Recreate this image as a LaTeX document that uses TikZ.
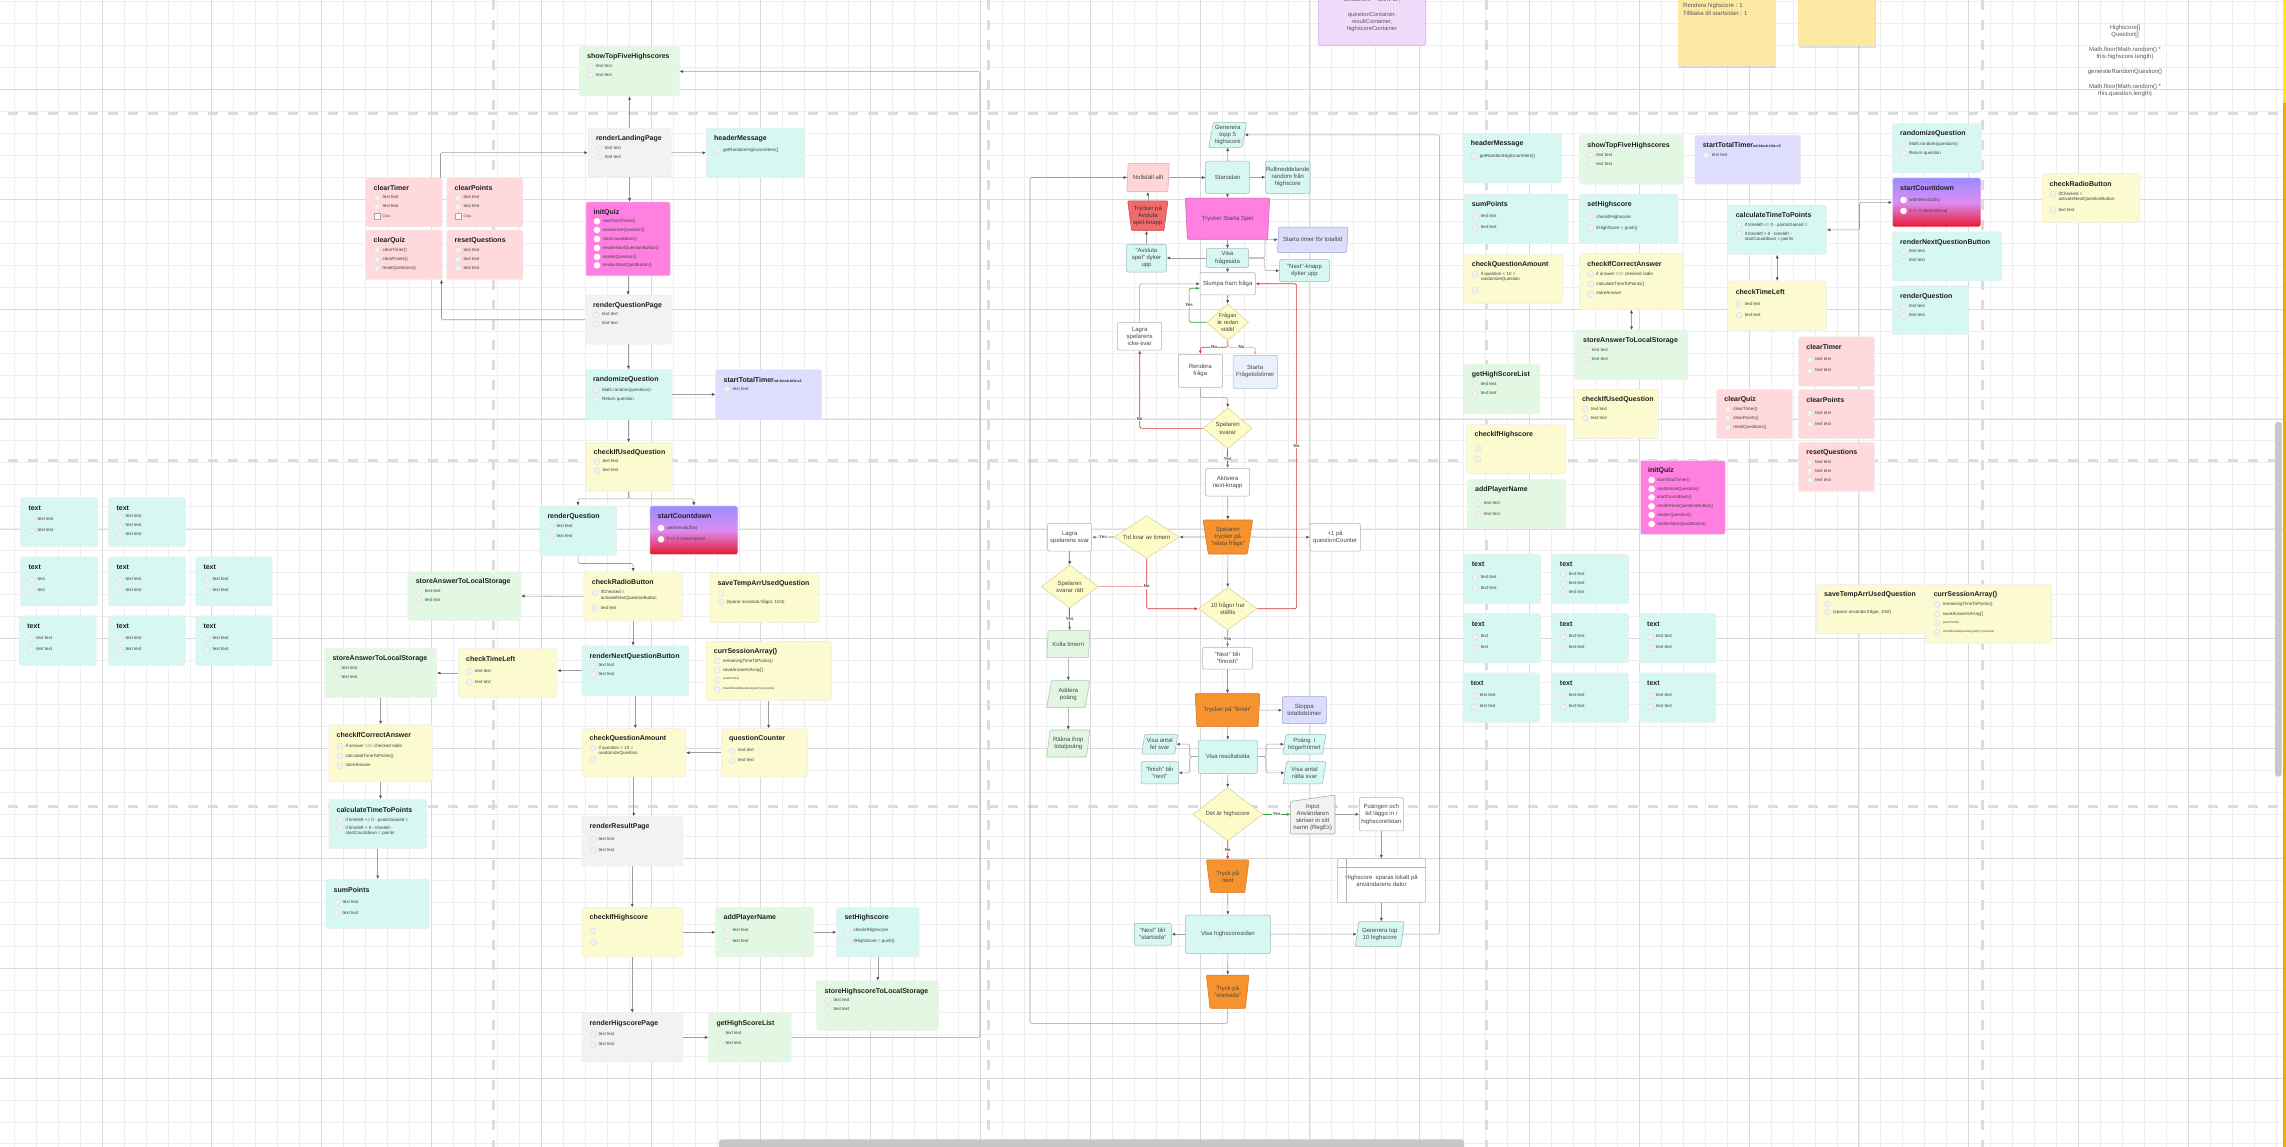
\documentclass[tikz,border=0pt]{standalone}
\usepackage{fontspec}
\setmainfont{Liberation Sans}
\usetikzlibrary{arrows.meta,shapes.geometric,shadows}

\definecolor{cmint}{HTML}{D7F7F2}
\definecolor{cgreen}{HTML}{E3F8E2}
\definecolor{cyellow}{HTML}{FCFACF}
\definecolor{cgray}{HTML}{F1F2F4}
\definecolor{cpink}{HTML}{FFD9DC}
\definecolor{clav}{HTML}{DFDDFD}
\definecolor{cmag}{HTML}{FF80E0}
\definecolor{cdtop}{HTML}{9A8CFF}
\definecolor{cdmid}{HTML}{DC8CF2}
\definecolor{cdbot}{HTML}{E8162E}
\definecolor{fmintd}{HTML}{9DBDB8}
\definecolor{fyellow}{HTML}{FDFBC8}
\definecolor{fyellowd}{HTML}{D6D39C}
\definecolor{fpink}{HTML}{FFD6D6}
\definecolor{fpinkd}{HTML}{E0A6A6}
\definecolor{fred}{HTML}{F26B6B}
\definecolor{fredd}{HTML}{C94B4B}
\definecolor{forange}{HTML}{F7932F}
\definecolor{forangd}{HTML}{D27A22}
\definecolor{flav}{HTML}{DCDCFC}
\definecolor{flavd}{HTML}{A2A2D6}
\definecolor{fblue}{HTML}{EAF1FD}
\definecolor{fblued}{HTML}{A9BEE2}
\definecolor{fgreen}{HTML}{E2F6E2}
\definecolor{fgreend}{HTML}{A6C9A6}
\definecolor{yesgreen}{HTML}{2F9E44}
\definecolor{nored}{HTML}{E03131}
\definecolor{nopink}{HTML}{F4A3A3}
\definecolor{gridminor}{HTML}{EEEEEE}
\definecolor{gridmajor}{HTML}{DADADA}
\definecolor{guidec}{HTML}{DCDCDC}
\definecolor{sticky}{HTML}{FDE9A4}
\definecolor{lilac}{HTML}{F2DAFB}
\definecolor{lilacd}{HTML}{CDAEDD}
\definecolor{stripy}{HTML}{FFE81A}
\definecolor{stripo}{HTML}{F5A700}

% name, x, y, width, height, fill keys, title, offset/item list
\newcommand{\fncard}[8]{%
  \node[card,#6,minimum width=#4,minimum height=#5,anchor=north west] (#1) at (#2,#3) {};
  \node[cardtitle,anchor=west] (#1-t) at ([xshift=8pt,yshift=-10.5pt]#1.north west) {#7};
  \foreach \dy/\txt [count=\k] in {#8} {
    \node[dot] (#1-c\k) at ([xshift=11.5pt,yshift=-\dy pt]#1.north west) {};
    \node[cardtext,anchor=north west] (#1-i\k) at ([xshift=17pt,yshift=2.4pt-\dy pt]#1.north west) {\txt};
  }%
}

\begin{document}
\begin{tikzpicture}[x=1pt,y=-1pt,
  card/.style={rectangle, rounded corners=2pt, draw=black!7, line width=0.5pt, inner sep=0pt},
  cardtitle/.style={font=\fontsize{7}{8}\selectfont\bfseries, text=black!88, inner sep=0pt},
  cardtext/.style={font=\fontsize{4.5}{5.6}\selectfont, text=black!75, inner sep=0pt, align=left},
  dot/.style={circle, draw=black!14, fill=black!5, line width=0.4pt, inner sep=0pt, minimum size=6pt},
  chk/.style={rectangle, draw=black!35, fill=white, inner sep=0pt, minimum size=5.5pt},
  flow/.style={font=\fontsize{6}{7.2}\selectfont, text=black!72, align=center, inner sep=0.5pt, line width=0.55pt},
  fbox/.style={flow, rectangle, rounded corners=1.2pt, draw=black!30, fill=white},
  fmintbox/.style={fbox, fill=cmint, draw=fmintd},
  fpara/.style={flow, trapezium, trapezium left angle=78, trapezium right angle=102, trapezium stretches=true, rounded corners=1pt, fill=cmint, draw=fmintd},
  ftrap/.style={flow, trapezium, trapezium left angle=103, trapezium right angle=103, trapezium stretches=true, rounded corners=1pt, inner sep=0pt, fill=forange, draw=forangd},
  fdiam/.style={flow, diamond, inner sep=0pt, fill=fyellow, draw=fyellowd},
  conn/.style={-{Latex[length=3.5pt,width=3pt,color=black!68]}, draw=black!38, line width=0.55pt, rounded corners=1.5pt},
  dconn/.style={conn, {Latex[length=3.5pt,width=3pt,color=black!68]}-{Latex[length=3.5pt,width=3pt,color=black!68]}},
  yesc/.style={-{Latex[length=3.5pt,width=3pt]}, draw=yesgreen, line width=0.6pt, rounded corners=1.5pt},
  noc/.style={-{Latex[length=3.5pt,width=3pt]}, draw=nored, line width=0.6pt, rounded corners=1.5pt},
  nopc/.style={noc, draw=nopink},
  yn/.style={font=\fontsize{4.4}{5}\selectfont\bfseries, text=black!70, fill=white, inner sep=0.5pt},
  note/.style={font=\fontsize{5.8}{7.2}\selectfont, text=black!65, align=center, inner sep=0pt},
  guide/.style={draw=guidec, line width=3pt, dash pattern=on 10pt off 10pt}]

\clip (0,0) rectangle (2286,1147);
\fill[white] (0,0) rectangle (2286,1147);
\foreach \i in {0,...,104} \draw[gridminor, line width=0.7pt] ({14.2+21.96*\i},0) -- ++(0,1147);
\foreach \j in {0,...,52} \draw[gridminor, line width=0.7pt] (0,{1.4+21.97*\j}) -- ++(2286,0);
\foreach \i in {0,...,19} \draw[gridmajor, line width=0.8pt] ({102+109.8*\i},0) -- ++(0,1147);
\foreach \j in {0,...,9} \draw[gridmajor, line width=0.8pt] (0,{89.3+109.9*\j}) -- ++(2286,0);
\foreach \gx in {493,988.7,1486,1982} \draw[guide] (\gx,0) -- (\gx,1147);
\foreach \gy in {114,460.5,806} \draw[guide] (8,\gy) -- (2286,\gy);

\draw[fill=lilac, draw=lilacd, line width=0.6pt, rounded corners=1.5pt] (1318.3,-5) rectangle (1425.7,45.3);
\node[note, anchor=north] (contnote) at (1372,-2.6) {containers = 'Skriv ut';\\[7.2pt]questionContainer,\\resultContainer,\\highscoreContainer};
\fill[sticky, drop shadow={opacity=0.25,shadow xshift=0.5pt,shadow yshift=-2.5pt}] (1678,-5) rectangle (1775.5,66);
\fill[sticky, drop shadow={opacity=0.25,shadow xshift=0.5pt,shadow yshift=-2.5pt}] (1798,-5) rectangle (1875.4,46);
\node[note, align=left, anchor=north west, font=\fontsize{6}{7.7}\selectfont] (stickytxt) at (1683,3.4) {Rendera highscore : 1\\Tillbaka till startsidan : 1};
\node[note, anchor=north, font=\fontsize{6}{7}\selectfont] (codenote) at (2125,25.2) {Highscore[]\\Question[]\\[8pt]Math.floor(Math.random() *\\this.highscore.length)\\[8pt]generateRandomQuestion()\\[8pt]Math.floor(Math.random() *\\this.question.length)};

\fncard{clrTimerL}{365.5}{177.7}{76.5}{49}{fill=cpink}{clearTimer}{20.3/text text,29.3/text text}
\fncard{clrPointsL}{446.5}{177.7}{76.2}{49}{fill=cpink}{clearPoints}{20.3/text text,29.3/text text}
\node[chk] (clrTimerL-b) at ([xshift=11.5pt,yshift=-38.6pt]clrTimerL.north west) {};
\node[cardtext, font=\fontsize{3.5}{4}\selectfont, anchor=west] (clrTimerL-bt) at ([xshift=17pt,yshift=-38.6pt]clrTimerL.north west) {Click};
\node[chk] (clrPointsL-b) at ([xshift=11.5pt,yshift=-38.6pt]clrPointsL.north west) {};
\node[cardtext, font=\fontsize{3.5}{4}\selectfont, anchor=west] (clrPointsL-bt) at ([xshift=17pt,yshift=-38.6pt]clrPointsL.north west) {Click};
\fncard{clrQuizL}{365.5}{230}{76.5}{49.3}{fill=cpink}{clearQuiz}{20.3/clearTimer(),29.3/clearPoints(),38.3/resetQuestions()}
\fncard{resetL}{446.5}{230}{76.2}{49.3}{fill=cpink}{resetQuestions}{20.3/text text,29.3/text text,38.3/text text}

\fncard{showTopL}{579}{46.7}{100}{49}{fill=cgreen}{showTopFiveHighscores}{19.6/text text,28.6/text text}
\fncard{landing}{587.8}{128}{83}{48.7}{fill=cgray}{renderLandingPage}{20.3/text text,29.3/text text}
\fncard{headerL}{706}{128}{98.5}{49}{fill=cmint}{headerMessage}{22.3/getRandomHighscoreItem()}
\begin{scope}[dot/.append style={fill=white, draw=white}]
\fncard{initL}{585.5}{201.7}{84.7}{74}{fill=cmag}{initQuiz}{19.6/startTotalTimer(),28.3/randomizeQuestion(),37.3/startCountdown(),46.3/renderNextQuestionButton(),55.3/renderQuestion(),63.6/renderAbortQuizButton()}
\fncard{cdL}{649.5}{505.7}{88}{48.7}{top color=cdtop,bottom color=cdbot,middle color=cdmid}{startCountdown}{22.3/setInterval(30s),33.6/if <= 0 clearInterval}
\fncard{cdR}{1892}{177.7}{88.6}{49}{top color=cdtop,bottom color=cdbot,middle color=cdmid}{startCountdown}{22.3/setInterval(30s),33.3/if <= 0 clearInterval}
\fncard{initR}{1640}{460}{85}{74.3}{fill=cmag}{initQuiz}{20/startTotalTimer(),29/randomizeQuestion(),37.3/startCountdown(),46.3/renderNextQuestionButton(),55/renderQuestion(),64/renderAbortQuizButton()}
\end{scope}
\fncard{qpage}{585}{295}{86.4}{49}{fill=cgray}{renderQuestionPage}{20/text text,29/text text}
\fncard{randL}{585}{369.3}{86.7}{49.7}{fill=cmint}{randomizeQuestion}{20.7/Math.random(questions),29.7/Return question}
\fncard{totalL}{715.4}{369.3}{106}{49.7}{fill=clav}{startTotalTimer{\fontsize{3.6}{4}\selectfont nd-block-title-v3}}{20/text text}
\fncard{usedL}{585.5}{442.3}{86}{48.7}{fill=cyellow}{checkIfUsedQuestion}{19.7/text text,28.7/text text}
\fncard{rqL}{539.3}{505.7}{77}{49.3}{fill=cmint}{renderQuestion}{21.3/text text,30.6/text text}
\fncard{radioL}{583.7}{571.7}{98.3}{49}{fill=cyellow}{checkRadioButton}{21/{ifChecked =\\activateNextQuestionButton},36.6/text text}
\fncard{tempL}{709.5}{572.7}{109}{49.7}{fill=cyellow}{saveTempArrUsedQuestion}{20.3/\mbox{},29.3/{(sparar använda frågor, 10st)}}
\fncard{storeA1}{407.6}{571.7}{113}{48.3}{fill=cgreen}{storeAnswerToLocalStorage}{19.6/text text,28.6/text text}
\fncard{nextL}{581.5}{645.7}{107.2}{49.3}{fill=cmint}{renderNextQuestionButton}{20.3/text text,28.6/text text}
\fncard{sessL}{705.7}{641}{125.3}{59}{fill=cyellow}{currSessionArray()}{20/remainingTimeToPoints(),29.3/saveAnswersArray[],39/{\fontsize{3}{3.5}\selectfont (userPoints)},48.3/{\fontsize{3}{3.5}\selectfont checkIfUsedQuestion(quiNr) (userAns)}}
\fncard{timeleftL}{458}{648.3}{98.7}{49}{fill=cyellow}{checkTimeLeft}{23/text text,34/text text}
\fncard{storeA2}{324.4}{648.3}{112}{49}{fill=cgreen}{storeAnswerToLocalStorage}{20/text text,29/text text}
\fncard{correctL}{328.5}{724.3}{103.5}{56.7}{fill=cyellow}{checkIfCorrectAnswer}{21.7/if answer === checked radio,31.7/calculateTimeToPoints(),41.7/storeAnswer}
\fncard{amountL}{581.5}{728.3}{104}{48.4}{fill=cyellow}{checkQuestionAmount}{19.7/{if question < 10 =\\randomizeQuestion},31/\mbox{}}
\fncard{counterL}{721}{728.3}{86}{48.4}{fill=cyellow}{questionCounter}{22.7/text text,32.7/text text}
\fncard{calcL}{328.5}{799}{98}{49.3}{fill=cmint}{calculateTimeToPoints}{21/if timeleft <= 0 - pointsGained =,29/{if timeleft > 0 - timeleft -\\startCountdown = points}}
\fncard{sumL}{325.5}{879}{103.5}{49.3}{fill=cmint}{sumPoints}{23.3/text text,34.3/text text}
\fncard{resultL}{581.5}{816.3}{101}{49.4}{fill=cgray}{renderResultPage}{23/text text,34/text text}
\fncard{ifhsL}{581.5}{907.3}{101}{49.4}{fill=cyellow}{checkIfHighscore}{23.7/\mbox{},34.7/\mbox{}}
\fncard{nameL}{715.4}{907.3}{98}{49.4}{fill=cgreen}{addPlayerName}{23/text text,34/text text}
\fncard{sethsL}{836.3}{907.3}{82.5}{49.4}{fill=cmint}{setHighscore}{23/checkIfHighscore,34/ifHighScore = push()}
\fncard{storeHS}{816.4}{980.7}{122}{49.3}{fill=cgreen}{storeHighscoreToLocalStorage}{20.3/text text,28.6/text text}
\fncard{hsPageL}{581.5}{1012.7}{101}{49}{fill=cgray}{renderHigscorePage}{21.6/text text,32.3/text text}
\fncard{listL}{708.3}{1012.7}{82.5}{49}{fill=cgreen}{getHighScoreList}{20.6/text text,30.6/text text}

\fncard{txtA}{20.3}{497.3}{77}{49}{fill=cmint}{text}{22.7/text text,33.7/text text}
\fncard{txtB}{108.4}{497.3}{76.6}{49}{fill=cmint}{text}{19.7/text text,28.7/text text,37.7/text text}
\fncard{txtC}{20.3}{556.7}{77}{49}{fill=cmint}{text}{23.3/text,34.3/text}
\fncard{txtD}{108.4}{556.7}{76.6}{49}{fill=cmint}{text}{23.3/text text,34.3/text text}
\fncard{txtE}{195.3}{556.7}{76.6}{49}{fill=cmint}{text}{23.3/text text,34.3/text text}
\fncard{txtF}{19.2}{615.7}{77}{49.3}{fill=cmint}{text}{23.3/text text,34.3/text text}
\fncard{txtG}{108.4}{615.7}{76.6}{49.3}{fill=cmint}{text}{23.3/text text,34.3/text text}
\fncard{txtH}{195.3}{615.7}{76.6}{49.3}{fill=cmint}{text}{23.3/text text,34.3/text text}

\fncard{headerR}{1462.7}{133.3}{98.7}{49.4}{fill=cmint}{headerMessage}{22.7/getRandomHighscoreItem()}
\fncard{showTopR}{1579.2}{135}{104}{49}{fill=cgreen}{showTopFiveHighscores}{20.3/text text,29.3/text text}
\fncard{totalR}{1694.6}{135}{105.8}{49}{fill=clav}{startTotalTimer{\fontsize{3.6}{4}\selectfont nd-block-title-v3}}{20.3/text text}
\fncard{randR}{1892}{123.3}{89}{49.4}{fill=cmint}{randomizeQuestion}{20.7/Math.random(questions),30/Return question}
\fncard{sumR}{1463.7}{194}{104.2}{49.3}{fill=cmint}{sumPoints}{23/text text,34/text text}
\fncard{setR}{1579.2}{194}{98.7}{49.3}{fill=cmint}{setHighscore}{23/checkIfHighscore,34/ifHighScore = push()}
\fncard{calcR}{1727.6}{205}{98.7}{49.3}{fill=cmint}{calculateTimeToPoints}{20/if timeleft <= 0 - pointsGained =,29/{if timeleft > 0 - timeleft -\\startCountdown = points}}
\fncard{nextR}{1892}{231.7}{109.6}{49}{fill=cmint}{renderNextQuestionButton}{20.3/text text,29.3/text text}
\fncard{rqR}{1892}{285.7}{76.7}{48.6}{fill=cmint}{renderQuestion}{21.3/text text,30.3/text text}
\fncard{radioR}{2041.5}{173.3}{98.2}{49}{fill=cyellow}{checkRadioButton}{20.7/{ifChecked =\\activateNextQuestionButton},37/text text}
\fncard{amountR}{1463.7}{254.3}{98.8}{49}{fill=cyellow}{checkQuestionAmount}{19.7/{if question < 10 =\\randomizeQuestion},35.7/\mbox{}}
\fncard{correctR}{1579.2}{253.3}{104}{56}{fill=cyellow}{checkIfCorrectAnswer}{20.7/if answer === checked radio,30.7/calculateTimeToPoints(),40.7/storeAnswer}
\fncard{timeleftR}{1727.6}{281}{98.7}{49}{fill=cyellow}{checkTimeLeft}{23.3/text text,34.3/text text}
\fncard{storeAR}{1574.9}{330}{112.7}{49.3}{fill=cgreen}{storeAnswerToLocalStorage}{20.3/text text,29.3/text text}
\fncard{clrTimerR}{1798.2}{336.7}{76}{49.3}{fill=cpink}{clearTimer}{23.3/text text,34.3/text text}
\fncard{listR}{1463.7}{364}{75.6}{49.3}{fill=cgreen}{getHighScoreList}{20.3/text text,29.3/text text}
\fncard{usedR}{1573.8}{389.3}{84.2}{49}{fill=cyellow}{checkIfUsedQuestion}{20/text text,29/text text}
\fncard{clrQuizR}{1716.2}{389.3}{75.6}{49}{fill=cpink}{clearQuiz}{20/clearTimer(),29/clearPoints(),38/resetQuestions()}
\fncard{clrPointsR}{1798.2}{389.3}{76}{49}{fill=cpink}{clearPoints}{24/text text,35/text text}
\fncard{ifhsR}{1466.4}{424.3}{99.3}{49}{fill=cyellow}{checkIfHighscore}{24/\mbox{},35/\mbox{}}
\fncard{resetR}{1798.2}{442}{76}{49.3}{fill=cpink}{resetQuestions}{20.3/text text,29.3/text text,38.3/text text}
\fncard{nameR}{1467}{479.3}{98.7}{49.4}{fill=cgreen}{addPlayerName}{24/text text,35/text text}
\fncard{tempR}{1816}{584}{108.5}{49.3}{fill=cyellow}{saveTempArrUsedQuestion}{20/\mbox{},28.3/{(sparar använda frågor, 10st)}}
\fncard{sessR}{1925.6}{584}{125.7}{59.3}{fill=cyellow}{currSessionArray()}{20.3/remainingTimeToPoints(),30/saveAnswersArray[],39.3/{\fontsize{3}{3.5}\selectfont (userPoints)},48.3/{\fontsize{3}{3.5}\selectfont checkIfUsedQuestion(quiNr) (userAns)}}
\fncard{txtRA}{1463.7}{554}{76.6}{49.3}{fill=cmint}{text}{23.3/text text,34.3/text text}
\fncard{txtRB}{1551.7}{554}{76.6}{49.3}{fill=cmint}{text}{20.3/text text,29.3/text text,38.3/text text}
\fncard{txtRC}{1463.7}{613.3}{76.6}{49.4}{fill=cmint}{text}{23.7/text,34.7/text}
\fncard{txtRD}{1551.7}{613.3}{76.6}{49.4}{fill=cmint}{text}{23.7/text text,34.7/text text}
\fncard{txtRE}{1639}{613.3}{76.7}{49.4}{fill=cmint}{text}{23.7/text text,34.7/text text}
\fncard{txtRF}{1462.7}{672.7}{76.6}{49.3}{fill=cmint}{text}{23.3/text text,34.3/text text}
\fncard{txtRG}{1551.7}{672.7}{76.6}{49.3}{fill=cmint}{text}{23.3/text text,34.3/text text}
\fncard{txtRH}{1639}{672.7}{76.7}{49.3}{fill=cmint}{text}{23.3/text text,34.3/text text}

\draw[conn] (landing.north) -- (landing.north |- showTopL.south);
\draw[conn] (landing.east) -- (headerL.west);
\draw[conn] (landing.south) -- (landing.south |- initL.north);
\draw[conn] (initL.south) -- (initL.south |- qpage.north);
\draw[conn] (qpage.south) -- (qpage.south |- randL.north);
\draw[conn] (randL.east) -- (totalL.west);
\draw[conn] (randL.south) -- (randL.south |- usedL.north);
\draw[conn] (usedL.south) -- ++(0,7.3) -| (rqL.north);
\draw[conn] (usedL.south) -- ++(0,7.3) -| (cdL.north);
\draw[conn] (rqL.south) -- ++(0,8) -| (radioL.north);
\draw[conn] (radioL.west) -- (storeA1.east);
\draw[conn] (radioL.south) -- (radioL.south |- nextL.north);
\draw[conn] (nextL.west) -- (nextL.west -| timeleftL.east);
\draw[conn] (timeleftL.west) -- (storeA2.east);
\draw[conn] (storeA2.south) -- (storeA2.south |- correctL.north);
\draw[conn] (correctL.south) -- (correctL.south |- calcL.north);
\draw[conn] (calcL.south) -- (calcL.south |- sumL.north);
\draw[conn] (nextL.south) -- (nextL.south |- amountL.north);
\draw[conn] (sessL.south) -- (sessL.south |- counterL.north);
\draw[conn] (counterL.west) -- (amountL.east);
\draw[conn] (amountL.south) -- (amountL.south |- resultL.north);
\draw[conn] (resultL.south) -- (resultL.south |- ifhsL.north);
\draw[conn] (ifhsL.east) -- (nameL.west);
\draw[conn] (nameL.east) -- (sethsL.west);
\draw[conn] (sethsL.south) -- (sethsL.south |- storeHS.north);
\draw[conn] (ifhsL.south) -- (ifhsL.south |- hsPageL.north);
\draw[conn] (hsPageL.east) -- (listL.west);
\coordinate (loopA) at (980,1036.7);
\draw[conn] (listL.east) -- (listL.east -| loopA) |- (showTopL.east);
\draw[conn] (qpage.west) -| ([xshift=-1pt]clrQuizL.south east);
\draw[conn] ([xshift=-2pt]clrTimerL.north east) |- (landing.west);

\draw[dconn] (calcR.east) -- ++(32.7,0) |- (cdR.west);
\draw[dconn] (calcR.south) -- (timeleftR.north);
\draw[dconn] (correctR.south) -- (storeAR.north);

\node[fpara, minimum width=38, minimum height=25] (gen5) at (1227.7,134.8) {Generera\\topp 5\\highscore};
\node[fmintbox, minimum width=43.6, minimum height=32.3] (startpage) at (1227.5,177.2) {Starsidan};
\node[fmintbox, minimum width=44.3, minimum height=32.3] (rull) at (1287.8,177.2) {Rullmeddelande\\random från\\highscore};
\node[fpara, fill=fpink, draw=fpinkd, minimum width=42.6, minimum height=28.4] (resetall) at (1148,177.5) {Nollställ allt};
\node[ftrap, trapezium left angle=100, trapezium right angle=100, fill=fred, draw=fredd, text=black!80, minimum width=40.3, minimum height=29.7] (abort) at (1147.8,215.8) {Trycker på\\Avsluta\\spel-knapp};
\node[ftrap, fill=cmag, draw=cmag!80!black, minimum width=84.4, minimum height=41.3] (play) at (1227.5,218.7) {Trycker Starta Spel};
\node[fmintbox, minimum width=42.4, minimum height=18.6] (visaq) at (1227.5,258) {Visa\\frågesida};
\node[fmintbox, minimum width=39.6, minimum height=27.7] (abortup) at (1146.5,258.2) {"Avsluta\\spel" dyker\\upp};
\node[fpara, fill=flav, draw=flavd, minimum width=70.7, minimum height=25.3] (totaltimer) at (1312.7,239.7) {Starta timer för totaltid};
\node[fmintbox, minimum width=49.6, minimum height=22] (nextup) at (1304.5,270.7) {"Next"-knapp\\dyker upp};
\node[fbox, minimum width=55.3, minimum height=22.3] (slumpa) at (1227.7,283.8) {Slumpa fram fråga};
\node[fdiam, aspect=1.15, minimum width=42, minimum height=36.7, font=\fontsize{5.6}{6.8}\selectfont] (asked) at (1227.7,322.3) {Frågan\\är redan\\ställd};
\node[fbox, minimum width=44, minimum height=27.7] (nosvar) at (1139.7,336.2) {Lagra\\spelarens\\icke-svar};
\node[fbox, minimum width=44, minimum height=33] (renderq) at (1200.3,370.8) {Rendera\\fråga};
\node[fbox, fill=fblue, draw=fblued, minimum width=44.3, minimum height=33] (qtimer) at (1255.2,371.8) {Starta\\Frågetidstimer};
\node[fdiam, aspect=1.19, minimum width=49, minimum height=41.3] (answers) at (1227.7,428.3) {Spelaren\\svarar};
\node[fbox, minimum width=44, minimum height=27.7] (activate) at (1227.7,482.2) {Aktivera\\next-knapp};
\node[ftrap, minimum width=49.7, minimum height=34] (pressnext) at (1227.8,537) {Spelaren\\trycker på\\"nästa fråga"};
\node[fbox, minimum width=50.3, minimum height=27.7] (plus1) at (1335.2,537.2) {+1 på\\questionCounter};
\node[fdiam, aspect=1.52, minimum width=65, minimum height=42.7] (timeleft) at (1146.7,537) {Tid kvar av timern};
\node[fbox, minimum width=44, minimum height=27.7] (storeans) at (1069.7,537.2) {Lagra\\spelarens svar};
\node[fdiam, aspect=1.33, minimum width=57, minimum height=43] (iscorrect) at (1069.7,586.5) {Spelaren\\svarar rätt};
\node[fpara, fill=fgreen, draw=fgreend, minimum width=43.3, minimum height=27] (checktime) at (1068.3,644.2) {Kolla timern};
\node[fpara, fill=fgreen, draw=fgreend, minimum width=43.3, minimum height=27] (addpts) at (1068.3,694.2) {Addera\\poäng};
\node[fpara, fill=fgreen, draw=fgreend, minimum width=43.3, minimum height=27] (sumup) at (1068.3,743.5) {Räkna ihop\\totalpoäng};
\node[fdiam, aspect=1.37, minimum width=58.7, minimum height=42.7] (tenq) at (1227.7,608.7) {10 frågor har\\ställts};
\node[fbox, minimum width=49.6, minimum height=21.7] (finnish) at (1227.5,658.2) {"Next" blir\\"finnish"};
\node[ftrap, minimum width=65, minimum height=33] (pressfin) at (1227.5,710.2) {Trycker på "finish"};
\node[fbox, fill=flav, draw=flavd, minimum width=44, minimum height=27] (stoptimer) at (1304.3,710.2) {Stoppa\\totaltidstimer};
\node[fmintbox, minimum width=59, minimum height=33.3] (resultpage) at (1227.8,756.7) {Visa resultatsida};
\node[fpara, minimum width=36, minimum height=19.7] (wrong) at (1159.7,744.2) {Visa antal\\fel svar};
\node[fmintbox, minimum width=37.3, minimum height=22.3] (fin2next) at (1159.7,772.8) {"finish" blir\\"next"};
\node[fpara, minimum width=43.3, minimum height=19.7] (corner) at (1304.3,744.2) {Poäng\ \ i\\högerhörnet};
\node[fpara, minimum width=43, minimum height=22.3] (rightans) at (1304.5,772.8) {Visa antal\\rätta svar};
\node[fdiam, aspect=1.31, minimum width=70, minimum height=53.3] (ishs) at (1227.7,814.3) {Det är highscore};
\node[flow, rectangle, minimum width=44, minimum height=32] (inputname) at (1312.7,817.7) {};
\draw[fill=cgray, draw=black!35, line width=0.55pt, rounded corners=1pt] (inputname.south west) -- (inputname.north west) -- ([yshift=6.4pt]inputname.north east) -- (inputname.south east) -- cycle;
\node[flow] (inputname-t) at (inputname) {Input\\Användaren\\skriver in sitt\\namn (RegEx)};
\node[fbox, minimum width=44, minimum height=33.3] (addlist) at (1381.3,814.3) {Poängen och\\tid läggs in i\\highscorelistan};
\node[fbox, minimum width=87.6, minimum height=43.6] (saved) at (1381.5,880.5) {Highscore\ \ sparas lokalt på\\användarens dator};
\draw[black!30, line width=0.55pt] ([yshift=-8.6pt]saved.north west) -- ([yshift=-8.6pt]saved.north east);
\draw[black!30, line width=0.55pt] ([xshift=9pt]saved.north west) -- ([xshift=9pt]saved.south west);
\node[fpara, minimum width=49, minimum height=25] (gen10) at (1379.8,934.2) {Generera top\\10 highscore};
\node[ftrap, minimum width=42.7, minimum height=32.7] (pressnext2) at (1227.7,876.3) {Tryck på\\next};
\node[fmintbox, minimum width=85, minimum height=38.3] (hsside) at (1227.8,934.2) {Visa highscoresidan};
\node[fmintbox, minimum width=37, minimum height=21.7] (next2start) at (1152.8,934.2) {"Next" blir\\"startsida"};
\node[ftrap, minimum width=42.7, minimum height=33.3] (pressstart) at (1227.7,991.7) {Tryck på\\"startsida"};

\draw[conn] (startpage.north) -- (gen5.south);
\draw[conn] (startpage.east) -- (rull.west);
\draw[conn] (resetall.east) -- (resetall.east -| startpage.west);
\draw[conn] (startpage.south) -- (play.north);
\draw[conn] (play.south) -- (visaq.north);
\draw[conn] (visaq.west) -- (visaq.west -| abortup.east);
\draw[conn] (abortup.north) -- (abortup.north |- abort.south);
\draw[conn] (abort.north) -- (abort.north |- resetall.south);
\draw[conn] (visaq.east) -- ++(15.8,0) |- (totaltimer.west);
\draw[conn] (visaq.east) -- ++(15.8,0) |- (nextup.west);
\draw[conn] (visaq.south) -- (slumpa.north);
\draw[conn] (slumpa.south) -- (asked.north);
\draw[yesc] (asked.west) -| ([xshift=-10.7pt,yshift=-4.5pt]slumpa.west) node[yn, pos=0.75] {Yes} -- ([yshift=-4.5pt]slumpa.west);
\draw[conn] (nosvar.north) |- (slumpa.west);
\draw[noc] (asked.south) -- ++(0,6.3) -| (renderq.north) node[yn, pos=0.25] {No};
\draw[nopc] (asked.south) -- ++(0,6.3) -| (qtimer.north) node[yn, pos=0.25] {No};
\draw[conn] (renderq.south) -- ++(0,10) -| (answers.north);
\draw[noc] (answers.west) -| (nosvar.south) node[yn, pos=0.56] {No};
\draw[yesc] (answers.south) -- (activate.north) node[yn, midway] {Yes};
\draw[conn] (activate.south) -- (pressnext.north);
\draw[conn] (pressnext.east) -- (plus1.west);
\draw[conn] (pressnext.west) -- (timeleft.east);
\draw[yesc] (timeleft.west) -- (storeans.east) node[yn, midway] {Yes};
\draw[conn] (storeans.south) -- (iscorrect.north);
\draw[noc] (timeleft.south) |- (tenq.west);
\draw[nopink, line width=0.6pt] (iscorrect.east) -- (iscorrect.east -| timeleft.south) node[yn, pos=1] {No};
\draw[yesc] (iscorrect.south) -- (iscorrect.south |- checktime.north) node[yn, midway] {Yes};
\draw[conn] (checktime.south) -- (addpts.north);
\draw[conn] (addpts.south) -- (sumup.north);
\draw[conn] (pressnext.south) -- (tenq.north);
\draw[noc] (tenq.east) -| ([xshift=41pt]slumpa.east) node[yn, pos=0.75] {No} -- (slumpa.east);
\draw[yesc] (tenq.south) -- (finnish.north) node[yn, midway] {Yes};
\draw[conn] (finnish.south) -- (pressfin.north);
\draw[conn] (pressfin.east) -- (stoptimer.west);
\draw[conn] (pressfin.south) -- (resultpage.north);
\draw[conn] (resultpage.west) -- ++(-8.3,0) |- (wrong.east);
\draw[conn] (resultpage.west) -- ++(-8.3,0) |- (fin2next.east);
\draw[conn] (resultpage.east) -- ++(8.4,0) |- (corner.west);
\draw[conn] (resultpage.east) -- ++(8.4,0) |- (rightans.west);
\draw[conn] (resultpage.south) -- (ishs.north);
\draw[yesc] (ishs.east) -- (ishs.east -| inputname.west) node[yn, midway] {Yes};
\draw[conn] (inputname.east |- addlist.west) -- (addlist.west);
\draw[conn] (addlist.south) -- (addlist.south |- saved.north);
\draw[conn] (addlist.south |- saved.south) -- (addlist.south |- gen10.north);
\coordinate (loopC) at (1439.3,933.7);
\draw[conn] (gen10.east) -- (gen10.east -| loopC) |- (gen5.east);
\draw[noc] (ishs.south) -- (pressnext2.north) node[yn, midway] {No};
\draw[conn] (pressnext2.south) -- (hsside.north);
\draw[conn] (hsside.west) -- (next2start.east);
\draw[conn] (hsside.east) -- (gen10.west);
\draw[conn] (hsside.south) -- (pressstart.north);
\coordinate (loopB) at (1030,1023.3);
\draw[conn] (pressstart.south) |- (loopB) |- (resetall.west);

\fill[black!22, rounded corners=3pt] (719,1139.3) rectangle (1464,1150);
\fill[black!22, rounded corners=3pt] (2275,421.7) rectangle (2281.6,776.7);
\fill[stripy] (2283,0) rectangle (2286,103);
\fill[stripo] (2283,103) rectangle (2286,1147);
\end{tikzpicture}
\end{document}
